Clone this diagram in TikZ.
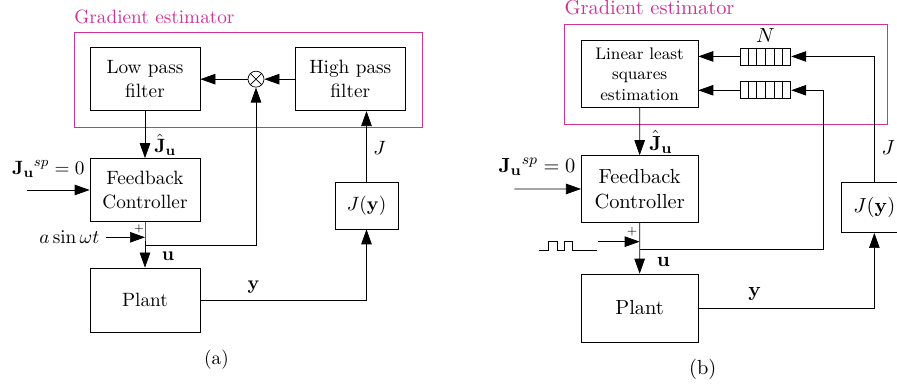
\documentclass[tikz,border=0pt,11pt]{standalone}
\usepackage{xcolor}
\usepackage{amsmath}
\usetikzlibrary{arrows.meta,calc,positioning}
\definecolor{gecol}{RGB}{210,50,150}
\tikzset{
    global scale/.style={scale=#1,every node/.append style={scale=#1}},
    >={Triangle[length=3mm,width=2.1mm]},
    RA1/.style ={rectangle,minimum width = 2.2cm, minimum height =1.26cm, draw, align=center},
    RA2/.style ={rectangle,minimum width = 1.26cm, minimum height =0.94cm, draw},
    CC1/.style ={circle,minimum size = 0.32cm, inner sep=0pt, draw},
    BU/.style ={rectangle,minimum width = 0.96cm, minimum height =0.32cm, inner sep=0pt, draw},
    GE/.style ={draw=gecol},
    GL/.style ={anchor=south west, inner xsep=0pt, inner ysep=4.5pt, text=gecol},
    PL/.style ={font=\tiny, inner sep=0pt}
}
\begin{document}
\begin{tikzpicture}
    \useasboundingbox (0,0) rectangle (17.94,7.72);
    % (a) sinusoidal dither
    \begin{scope}
        \draw[GE] (1.48,5.18) rectangle (8.44,7.08);
        \node[GL] (gla) at (1.48,7.08) {Gradient estimator};
        \node[RA1] (lpa) at (2.90,6.136) {Low pass\\filter};
        \node[RA1] (hpa) at (7.006,6.136) {High pass\\filter};
        \node[CC1] (mxa) at (5.12,6.136) {};
        \draw (mxa.north west)--(mxa.south east) (mxa.north east)--(mxa.south west);
        \node[RA1] (fca) at (2.90,3.92) {Feedback\\Controller};
        \node[RA2] (jya) at (7.33,3.61) {$J(\mathbf{y})$};
        \node[RA1, minimum height=1.28cm] (pla) at (2.90,1.72) {Plant};
        \coordinate (spa) at (0.54,3.92);
        \coordinate (dia) at (2.12,2.974);
        \coordinate (sma) at (2.90,2.974);
        \coordinate (bra) at (2.90,2.82);
        \draw[->] (hpa) -- (mxa);
        \draw[->] (mxa) -- (lpa);
        \draw[->] (lpa) -- node[right=0.5mm, pos=0.72]{$\hat{\mathbf{J}}_\mathbf{u}$} (fca);
        \draw[->] (spa) -- node[above=1.2mm, pos=0.34]{${\mathbf{J}_\mathbf{u}}^{sp}=0$} (fca);
        \draw (fca) -- (sma) -- (bra);
        \draw[->] (dia) node[left]{$a\sin\omega t$} -- (sma);
        \node[PL] (pa) at (2.78,3.14) {$+$};
        \draw[->] (bra) -- node[right=2mm]{$\mathbf{u}$} (pla);
        \draw[->] (bra) -| (mxa.south);
        \draw[->] (pla.east) -- node[above, pos=0.32]{$\mathbf{y}$} (pla.east -| jya.south) -- (jya.south);
        \draw[->] (jya.north) -- node[right, pos=0.48]{$J$} (jya.north |- hpa.south);
        \node (capa) at (4.33,0.52) {(a)};
    \end{scope}
    % (b) square wave dither, least squares
    \begin{scope}[shift={(9.6,0)}, global scale=1.06]
        \draw[GE] (1.591,4.943) rectangle (7.685,6.830);
        \node[GL] (glb) at (1.591,6.830) {Gradient estimator};
        \node[RA1, font=\footnotesize] (lsb) at (3.012,5.884) {Linear least\\squares\\estimation};
        \node[BU] (bfb1) at (5.384,6.217) {};
        \node[BU] (bfb2) at (5.384,5.579) {};
        \foreach \b in {bfb1,bfb2}
            \foreach \k in {1,...,5}
                \draw ($(\b.south west)!\k/6!(\b.south east)$) -- ($(\b.north west)!\k/6!(\b.north east)$);
        \node[above, inner sep=2.5pt] (nb) at (bfb1.north) {$N$};
        \node[RA1] (fcb) at (3.012,3.717) {Feedback\\Controller};
        \node[RA2] (jyb) at (7.44,3.364) {$J(\mathbf{y})$};
        \node[RA1, minimum height=1.28cm] (plb) at (3.012,1.472) {Plant};
        \coordinate (spb) at (0.647,3.717);
        \coordinate (dib) at (2.232,2.723);
        \coordinate (smb) at (3.012,2.723);
        \coordinate (brb) at (3.012,2.579);
        \coordinate (tpb) at (6.485,5.579);
        \draw[->] (bfb1.west) -- (lsb.east |- bfb1);
        \draw[->] (bfb2.west) -- (lsb.east |- bfb2);
        \draw[->] (lsb) -- node[right=0.5mm, pos=0.72]{$\hat{\mathbf{J}}_\mathbf{u}$} (fcb);
        \draw[->] (spb) -- node[above=1.2mm, pos=0.34]{${\mathbf{J}_\mathbf{u}}^{sp}=0$} (fcb);
        \draw (fcb) -- (smb) -- (brb);
        \draw[->] (dib) -- (smb);
        \node[PL] (pb) at (2.868,2.906) {$+$};
        \draw (1.119,2.566) -- (1.289,2.566) -- (1.289,2.736) -- (1.459,2.736) -- (1.459,2.566)
            -- (1.591,2.566) -- (1.591,2.736) -- (1.749,2.736) -- (1.749,2.566) -- (2.213,2.566);
        \draw[->] (brb) -- node[right=2mm]{$\mathbf{u}$} (plb);
        \draw[->] (brb) -| (tpb) -- (bfb2.east);
        \draw[->] (plb.east) -- node[above, pos=0.32]{$\mathbf{y}$} (plb.east -| jyb.south) -- (jyb.south);
        \draw[->] (jyb.north) |- node[right, pos=0.14]{$J$} (bfb1.east);
        \node (capb) at (4.202,0.315) {(b)};
    \end{scope}
\end{tikzpicture}
\end{document}
